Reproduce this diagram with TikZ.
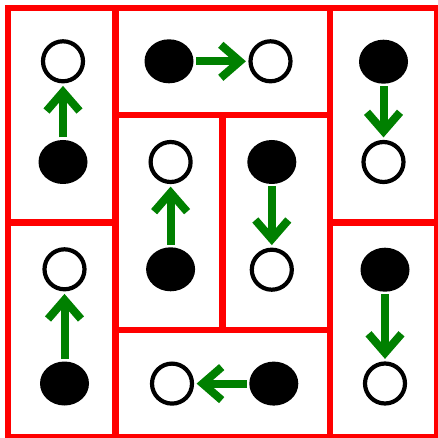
\documentclass[tikz,border=0pt]{standalone}
\usetikzlibrary{arrows.meta,shapes.geometric}
\definecolor{gridred}{RGB}{255,0,0}
\definecolor{arrgreen}{RGB}{0,128,0}
\begin{document}
\begin{tikzpicture}[x=1pt,y=-1pt,
  domino/.style={draw=gridred,line width=6.5pt,line join=miter},
  opendot/.style={circle,draw=black,line width=4.2pt,fill=white,minimum size=40pt,inner sep=0pt},
  fulldot/.style={ellipse,fill=black,minimum width=49pt,minimum height=44pt,inner sep=0pt,outer sep=0pt},
  move/.style={draw=arrgreen,line width=8pt,-{Straight Barb[length=19pt,width=33pt]},shorten <=2.5pt,shorten >=2.5pt}]
\useasboundingbox (0,0) rectangle (437,438);
\fill[white] (0,0) rectangle (437,438);
% dominoes
\draw[domino] (8,8) rectangle (115.25,222.5);
\draw[domino] (8,222.5) rectangle (115.25,437);
\draw[domino] (115.25,8) rectangle (329.75,115.25);
\draw[domino] (115.25,115.25) rectangle (222.5,329.75);
\draw[domino] (222.5,115.25) rectangle (329.75,329.75);
\draw[domino] (115.25,329.75) rectangle (329.75,437);
\draw[domino] (329.75,8) rectangle (437,222.5);
\draw[domino] (329.75,222.5) rectangle (437,437);
% dots
\node[opendot] (o11) at (63,61.3) {};
\node[fulldot] (f12) at (63,162) {};
\node[opendot] (o13) at (64.5,269.3) {};
\node[fulldot] (f14) at (64.5,383.5) {};
\node[fulldot] (f21) at (169,61.3) {};
\node[opendot] (o31) at (270.5,61.3) {};
\node[opendot] (o22) at (170.6,162) {};
\node[fulldot] (f32) at (271.8,162) {};
\node[fulldot] (f23) at (170.6,269.3) {};
\node[opendot] (o33) at (271.8,269.7) {};
\node[fulldot] (f41) at (383.5,61.7) {};
\node[opendot] (o42) at (383.5,162) {};
\node[fulldot] (f43) at (385,269.7) {};
\node[opendot] (o44) at (385,383.5) {};
\node[opendot] (o24) at (172,383.6) {};
\node[fulldot] (f34) at (273.8,383.6) {};
% moves
\draw[move] (f12) -- (o11);
\draw[move] (f14) -- (o13);
\draw[move] (f21) -- (o31);
\draw[move] (f23) -- (o22);
\draw[move] (f32) -- (o33);
\draw[move] (f41) -- (o42);
\draw[move] (f43) -- (o44);
\draw[move] (f34) -- (o24);
\end{tikzpicture}
\end{document}
